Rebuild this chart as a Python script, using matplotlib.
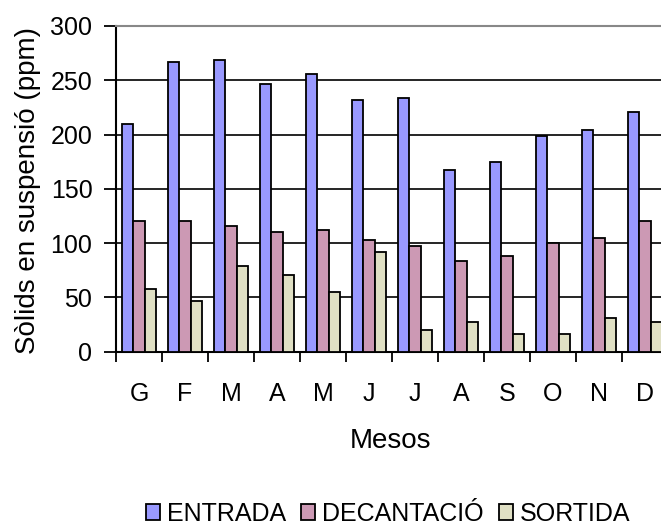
import numpy as np
import matplotlib.pyplot as plt

plt.rcParams['font.family'] = ['Liberation Sans', 'DejaVu Sans']

mesos = ['G', 'F', 'M', 'A', 'M', 'J', 'J', 'A', 'S', 'O', 'N', 'D']
entrada = [210, 267, 269, 247, 256, 232, 234, 167, 175, 199, 204, 221]
decantacio = [120, 120, 116, 110, 112, 103, 97, 84, 88, 100, 105, 120]
sortida = [58, 47, 79, 71, 55, 92, 20, 27, 16, 16, 31, 27]

fig = plt.figure(figsize=(6.61, 5.26), dpi=100)
# axes run slightly past the right edge, as in the original export
ax = fig.add_axes([116 / 661, (526 - 351.7) / 526, 552 / 661, 325.7 / 526])

x = np.arange(len(mesos))
w = 0.24
ax.bar(x - w, entrada, w, color='#9999FF', edgecolor='black', lw=1.3, label='ENTRADA', zorder=3)
ax.bar(x, decantacio, w, color='#CC99B4', edgecolor='black', lw=1.3, label='DECANTACIÓ', zorder=3)
ax.bar(x + w, sortida, w, color='#E0E0C4', edgecolor='black', lw=1.3, label='SORTIDA', zorder=3)

ax.set_xlim(-0.5, len(mesos) - 0.5)
ax.set_ylim(0, 300)
ax.set_yticks(range(0, 301, 50))
ax.yaxis.grid(True, color='black', lw=1.2, zorder=0)
ax.set_axisbelow(True)

ax.set_xticks(x)
ax.set_xticklabels(mesos)
ax.set_xticks(np.arange(-0.5, len(mesos)), minor=True)
ax.tick_params(axis='x', which='major', length=0, pad=22, labelsize=18)
ax.tick_params(axis='x', which='minor', length=7, width=1.3, direction='out')
ax.tick_params(axis='y', length=9, width=1.3, pad=8, labelsize=18)

ax.spines['right'].set_visible(False)
ax.spines['top'].set_color('#888888')
ax.spines['top'].set_linewidth(1.5)
ax.spines['left'].set_linewidth(1.5)
ax.spines['bottom'].set_linewidth(1.5)

fig.text(28 / 661, 1 - 191 / 526, 'Sòlids en suspensió (ppm)', fontsize=20,
         rotation=90, ha='center', va='center')
fig.text(390 / 661, 1 - 441 / 526, 'Mesos', fontsize=20, ha='center', va='center')

fig.legend(loc='center', bbox_to_anchor=(388 / 661, 1 - 514 / 526), ncol=3, frameon=False,
           fontsize=18, handlelength=0.56, handleheight=0.6, handletextpad=0.28,
           columnspacing=0.6, borderpad=0)

fig.savefig('out.png', dpi=100)
